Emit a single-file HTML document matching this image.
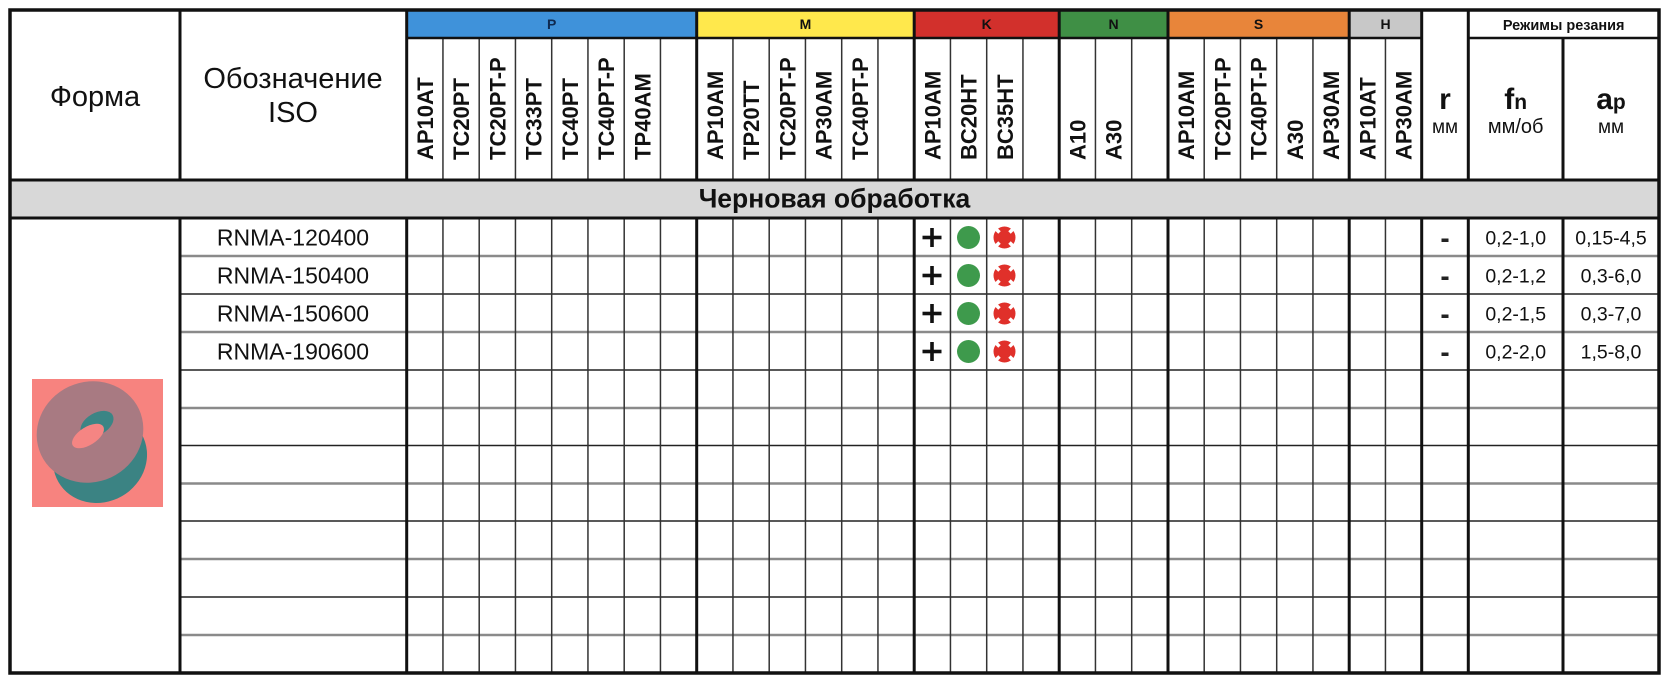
<!DOCTYPE html>
<html>
<head>
<meta charset="utf-8">
<style>
html,body{margin:0;padding:0;background:#fff;}
svg{display:block;}
text{font-family:"Liberation Sans","DejaVu Sans",sans-serif;fill:#111;}
.b{font-weight:bold;}
</style>
</head>
<body>
<svg width="1668" height="682" viewBox="0 0 1668 682" xmlns="http://www.w3.org/2000/svg">
<rect x="0" y="0" width="1668" height="682" fill="#fff"/>

<!-- color bands -->
<rect x="406.7" y="10" width="290" height="28" fill="#3f92da"/>
<rect x="696.7" y="10" width="217.5" height="28" fill="#ffe84c"/>
<rect x="914.2" y="10" width="145" height="28" fill="#d2302c"/>
<rect x="1059.2" y="10" width="108.8" height="28" fill="#3f8f45"/>
<rect x="1168" y="10" width="181.2" height="28" fill="#e8853a"/>
<rect x="1349.2" y="10" width="72.5" height="28" fill="#c8c8c8"/>

<!-- gray band -->
<rect x="10" y="180" width="1649" height="38" fill="#d8d8d8"/>

<!-- image -->
<rect x="32" y="379" width="131" height="128" fill="#f7837f"/>
<ellipse cx="100" cy="458" rx="48" ry="44" fill="#3b8383" transform="rotate(-30 100 458)"/>
<ellipse cx="90" cy="432" rx="54" ry="50" fill="#a87a82" transform="rotate(-25 90 432)"/>
<ellipse cx="97" cy="424" rx="18" ry="11" fill="#3b8585" transform="rotate(-30 97 424)"/>
<ellipse cx="88" cy="436" rx="18" ry="9" fill="#f58583" transform="rotate(-32 88 436)"/>

<!-- row lines -->
<g>
<line x1="180" y1="256" x2="1659" y2="256" stroke="#8a8a8a" stroke-width="2.5"/>
<line x1="180" y1="294" x2="1659" y2="294" stroke="#222" stroke-width="1.5"/>
<line x1="180" y1="332" x2="1659" y2="332" stroke="#8a8a8a" stroke-width="2.5"/>
<line x1="180" y1="370" x2="1659" y2="370" stroke="#222" stroke-width="1.5"/>
<line x1="180" y1="408" x2="1659" y2="408" stroke="#8a8a8a" stroke-width="2.5"/>
<line x1="180" y1="445.5" x2="1659" y2="445.5" stroke="#222" stroke-width="1.5"/>
<line x1="180" y1="483.5" x2="1659" y2="483.5" stroke="#8a8a8a" stroke-width="2.5"/>
<line x1="180" y1="521" x2="1659" y2="521" stroke="#222" stroke-width="1.5"/>
<line x1="180" y1="559" x2="1659" y2="559" stroke="#8a8a8a" stroke-width="2.5"/>
<line x1="180" y1="597" x2="1659" y2="597" stroke="#222" stroke-width="1.5"/>
<line x1="180" y1="635" x2="1659" y2="635" stroke="#8a8a8a" stroke-width="2.5"/>
</g>

<!-- thin column lines -->
<g stroke="#333" stroke-width="1.5">
<path d="M442.95 38V180M442.95 218V673
M479.2 38V180M479.2 218V673
M515.45 38V180M515.45 218V673
M551.7 38V180M551.7 218V673
M587.95 38V180M587.95 218V673
M624.2 38V180M624.2 218V673
M660.45 38V180M660.45 218V673
M732.95 38V180M732.95 218V673
M769.2 38V180M769.2 218V673
M805.45 38V180M805.45 218V673
M841.7 38V180M841.7 218V673
M877.95 38V180M877.95 218V673
M950.45 38V180M950.45 218V673
M986.7 38V180M986.7 218V673
M1022.95 38V180M1022.95 218V673
M1095.45 38V180M1095.45 218V673
M1131.7 38V180M1131.7 218V673
M1204.2 38V180M1204.2 218V673
M1240.45 38V180M1240.45 218V673
M1276.7 38V180M1276.7 218V673
M1312.95 38V180M1312.95 218V673
M1385.45 38V180M1385.45 218V673" fill="none"/>
</g>

<!-- thick lines -->
<g stroke="#111" stroke-width="3" fill="none">
<path d="M180 10V180M180 218V673
M406.7 10V180M406.7 218V673
M696.7 10V180M696.7 218V673
M914.2 10V180M914.2 218V673
M1059.2 10V180M1059.2 218V673
M1168 10V180M1168 218V673
M1349.2 10V180M1349.2 218V673
M1421.7 10V180M1421.7 218V673
M1468.3 10V180M1468.3 218V673
M1563 38V180M1563 218V673"/>
<path d="M406.7 38H1421.7M1468.3 38H1659" stroke-width="2.5"/>
<path d="M10 180H1659M10 218H1659"/>
<rect x="10" y="10" width="1649" height="663" stroke-width="3.5"/>
</g>

<!-- band labels -->
<g class="b" font-size="14" text-anchor="middle">
<text x="551.7" y="29" class="b" style="fill:#0f2a50">P</text>
<text x="805.5" y="29" class="b">M</text>
<text x="986.7" y="29" class="b">K</text>
<text x="1113.6" y="29" class="b">N</text>
<text x="1258.6" y="29" class="b">S</text>
<text x="1385.5" y="29" class="b">H</text>
<text x="1563.7" y="30" class="b" font-size="14.5">Режимы резания</text>
</g>

<!-- left headers -->
<text x="95" y="106" font-size="29" text-anchor="middle">Форма</text>
<text x="293" y="88" font-size="29" text-anchor="middle">Обозначение</text>
<text x="293" y="122" font-size="29" text-anchor="middle">ISO</text>

<!-- right headers -->
<text x="1445" y="109" text-anchor="middle" class="b" font-size="30">r</text>
<text x="1445" y="133" text-anchor="middle" font-size="19">мм</text>
<text x="1515.7" y="109" text-anchor="middle"><tspan class="b" font-size="30">f</tspan><tspan class="b" font-size="21">n</tspan></text>
<text x="1515.7" y="133" text-anchor="middle" font-size="20">мм/об</text>
<text x="1611" y="109" text-anchor="middle"><tspan class="b" font-size="30">a</tspan><tspan class="b" font-size="21">p</tspan></text>
<text x="1611" y="133" text-anchor="middle" font-size="19">мм</text>

<!-- vertical labels -->
<g class="b" font-size="22">
<text class="b" transform="translate(432.8 160) rotate(-90)">AP10AT</text>
<text class="b" transform="translate(469.1 160) rotate(-90)">TC20PT</text>
<text class="b" transform="translate(505.3 160) rotate(-90)">TC20PT-P</text>
<text class="b" transform="translate(541.6 160) rotate(-90)">TC33PT</text>
<text class="b" transform="translate(577.8 160) rotate(-90)">TC40PT</text>
<text class="b" transform="translate(614.1 160) rotate(-90)">TC40PT-P</text>
<text class="b" transform="translate(650.3 160) rotate(-90)">TP40AM</text>

<text class="b" transform="translate(722.8 160) rotate(-90)">AP10AM</text>
<text class="b" transform="translate(759.1 160) rotate(-90)">TP20TT</text>
<text class="b" transform="translate(795.3 160) rotate(-90)">TC20PT-P</text>
<text class="b" transform="translate(831.6 160) rotate(-90)">AP30AM</text>
<text class="b" transform="translate(867.8 160) rotate(-90)">TC40PT-P</text>

<text class="b" transform="translate(940.3 160) rotate(-90)">AP10AM</text>
<text class="b" transform="translate(976.6 160) rotate(-90)">BC20HT</text>
<text class="b" transform="translate(1012.8 160) rotate(-90)">BC35HT</text>

<text class="b" transform="translate(1085.3 160) rotate(-90)">A10</text>
<text class="b" transform="translate(1121.6 160) rotate(-90)">A30</text>

<text class="b" transform="translate(1194.1 160) rotate(-90)">AP10AM</text>
<text class="b" transform="translate(1230.3 160) rotate(-90)">TC20PT-P</text>
<text class="b" transform="translate(1266.6 160) rotate(-90)">TC40PT-P</text>
<text class="b" transform="translate(1302.8 160) rotate(-90)">A30</text>
<text class="b" transform="translate(1339.1 160) rotate(-90)">AP30AM</text>

<text class="b" transform="translate(1375.3 160) rotate(-90)">AP10AT</text>
<text class="b" transform="translate(1411.6 160) rotate(-90)">AP30AM</text>
</g>

<!-- gray band text -->
<text x="834.5" y="207.5" text-anchor="middle" class="b" font-size="26.5">Черновая обработка</text>

<!-- data rows -->
<g font-size="23" text-anchor="middle">
<text x="293" y="245.5">RNMA-120400</text>
<text x="293" y="283.5">RNMA-150400</text>
<text x="293" y="321.5">RNMA-150600</text>
<text x="293" y="359.5">RNMA-190600</text>
</g>
<g font-size="19.5" text-anchor="middle">
<text x="1515.7" y="244.5">0,2-1,0</text>
<text x="1611" y="244.5">0,15-4,5</text>
<text x="1515.7" y="282.5">0,2-1,2</text>
<text x="1611" y="282.5">0,3-6,0</text>
<text x="1515.7" y="320.5">0,2-1,5</text>
<text x="1611" y="320.5">0,3-7,0</text>
<text x="1515.7" y="358.5">0,2-2,0</text>
<text x="1611" y="358.5">1,5-8,0</text>
</g>

<!-- dashes in r column -->
<g fill="#222">
<rect x="1441.5" y="238.5" width="7" height="3.5"/>
<rect x="1441.5" y="276.5" width="7" height="3.5"/>
<rect x="1441.5" y="314.5" width="7" height="3.5"/>
<rect x="1441.5" y="352.5" width="7" height="3.5"/>
</g>

<!-- symbols -->
<defs>
<g id="plus"><rect x="-9.5" y="-1.8" width="19" height="3.6" fill="#111"/><rect x="-1.8" y="-9.5" width="3.6" height="19" fill="#111"/></g>
<g id="dot"><circle r="11.5" fill="#3e9a4c"/></g>
<g id="red"><circle r="11" fill="#e0302a"/>
<g stroke="#fff" stroke-width="3.5"><line x1="5" y1="5" x2="10" y2="10"/><line x1="-5" y1="5" x2="-10" y2="10"/><line x1="5" y1="-5" x2="10" y2="-10"/><line x1="-5" y1="-5" x2="-10" y2="-10"/></g>
</g>
</defs>
<use href="#plus" x="932" y="237.5"/>
<use href="#dot" x="968.5" y="237.5"/>
<use href="#red" x="1004.5" y="237.5"/>
<use href="#plus" x="932" y="275.5"/>
<use href="#dot" x="968.5" y="275.5"/>
<use href="#red" x="1004.5" y="275.5"/>
<use href="#plus" x="932" y="313.5"/>
<use href="#dot" x="968.5" y="313.5"/>
<use href="#red" x="1004.5" y="313.5"/>
<use href="#plus" x="932" y="351.5"/>
<use href="#dot" x="968.5" y="351.5"/>
<use href="#red" x="1004.5" y="351.5"/>
</svg>
</body>
</html>
